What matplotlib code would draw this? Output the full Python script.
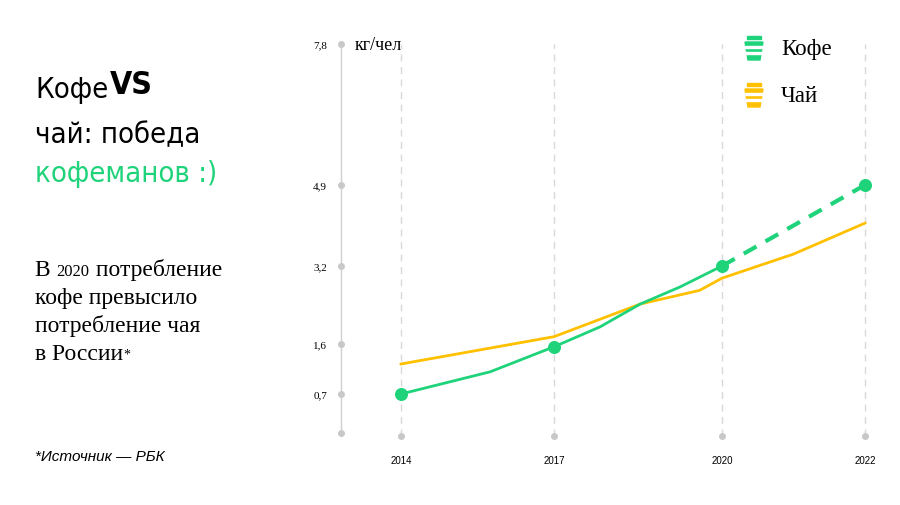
import numpy as np
import matplotlib
matplotlib.use("Agg")
import matplotlib.pyplot as plt
from matplotlib.patches import Polygon, Rectangle

years = [2014, 2017, 2020, 2022]
coffee_x = [2014, 2015.75, 2017, 2017.82, 2018.54, 2019.25, 2020]
coffee_y = [0.7, 1.1, 1.55, 1.95, 2.42, 2.77, 3.2]
coffee_fc_x = [2020, 2022]
coffee_fc_y = [3.2, 4.9]
coffee_pts_x = [2014, 2017, 2020, 2022]
coffee_pts_y = [0.7, 1.55, 3.2, 4.9]
tea_x = [2014, 2017, 2018.54, 2019.6, 2020, 2021, 2022]
tea_y = [1.24, 1.75, 2.42, 2.7, 2.95, 3.45, 4.1]
ytick_vals = [0, 0.7, 1.6, 3.2, 4.9, 7.8]
ytick_labels = ["", "0,7", "1,6", "3,2", "4,9", "7,8"]

GREEN = "#1fd37a"
YELLOW = "#ffc000"

xv = np.array([2000, 2014, 2017, 2020, 2022, 2040.0])
xp = np.array([401 - 14*51, 401, 554, 722, 865, 865 + 18*50.0])
yv = np.array([-10, 0, 0.7, 1.6, 3.2, 4.9, 7.8, 20.0])
yp = np.array([-560, 0, 39, 89, 167, 248, 389, 389 + 12.2*48.6])
fx = lambda v: np.interp(v, xv, xp)
ix = lambda p: np.interp(p, xp, xv)
fy = lambda v: np.interp(v, yv, yp)
iy = lambda p: np.interp(p, yp, yv)

fig = plt.figure(figsize=(9, 5.06), dpi=100)
ax = fig.add_axes([341/900, (506-437)/506, (880-341)/900, (437-45)/506])
ax.set_xscale("function", functions=(fx, ix))
ax.set_yscale("function", functions=(fy, iy))
ax.set_xlim(ix(341), ix(880))
ax.set_ylim(iy(-3), 7.8)

for s in ["top", "right", "bottom"]:
    ax.spines[s].set_visible(False)
ax.spines["left"].set_color("#d0d0d0")
ax.spines["left"].set_linewidth(1.0)

for yr in years:
    ax.axvline(yr, color="#d9d9d9", lw=1, ls=(0, (5, 4)), zorder=0)

ax.plot(tea_x, tea_y, color=YELLOW, lw=2, zorder=2)
ax.plot(coffee_x, coffee_y, color=GREEN, lw=2, zorder=3)
ax.plot(coffee_fc_x, coffee_fc_y, color=GREEN, lw=3, ls=(0, (3.5, 2.5)), zorder=3)
ax.scatter(coffee_pts_x, coffee_pts_y, s=70, color=GREEN, zorder=4)

ax.scatter([ix(341)]*len(ytick_vals), ytick_vals, s=16, color="#c8c8c8", clip_on=False, zorder=5)
ax.scatter(years, [iy(-3)]*len(years), s=16, color="#c8c8c8", clip_on=False, zorder=5)

ax.set_yticks(ytick_vals)
ax.set_yticklabels(ytick_labels, fontsize=8, family="Liberation Serif")
ax.set_xticks(years)
ax.set_xticklabels([str(y) for y in years], fontsize=7, family="Liberation Sans")
ax.tick_params(axis="y", length=0, pad=10)
ax.tick_params(axis="x", length=0, pad=14)
ax.minorticks_off()

fig.text(355/900, 1-46/506, "кг/чел", fontsize=13, family="Liberation Serif", va="center")

def cup(cx, cy, color):
    W, H = 900, 506
    top, bot = cy - 11, cy + 11
    poly = [(cx-9, top+4), (cx+9, top+4), (cx+6, bot), (cx-6, bot)]
    fig.patches.append(Polygon([(x/W, 1-y/H) for x, y in poly], closed=True,
                               transform=fig.transFigure, color=color))
    fig.patches.append(Rectangle(((cx-7)/W, 1-(top+1)/H), 14/W, 3/H,
                                 transform=fig.transFigure, color=color))
    for yy in (top+8, top+14):
        fig.patches.append(Rectangle(((cx-9)/W, 1-(yy+1.5)/H), 18/W, 1.8/H,
                                     transform=fig.transFigure, color="white"))

cup(754, 50, GREEN)
cup(754, 97, YELLOW)
fig.text(781/900, 1-50/506, "Кофе", fontsize=16.5, family="Liberation Serif", va="center")
fig.text(781/900, 1-97/506, "Чай", fontsize=16.5, family="Liberation Serif", va="center")

tf = dict(family="DejaVu Sans", stretch="condensed", fontsize=21, va="center")
fig.text(35/900, 1-90/506, "Кофе", **tf)
fig.text(110/900, 1-86/506, "VS", family="DejaVu Sans", stretch="condensed",
         fontweight="bold", fontsize=23, va="center")
fig.text(35/900, 1-135/506, "чай: победа", **tf)
fig.text(35/900, 1-174/506, "кофеманов :)", color=GREEN, **tf)

sf = dict(family="Liberation Serif", fontsize=17, va="baseline")
r = fig.canvas.get_renderer()
def run(parts, x, ybase):
    for txt, size, dy in parts:
        t = fig.text(x/900, 1-(ybase+dy)/506, txt, family="Liberation Serif",
                     fontsize=size, va="baseline")
        x = t.get_window_extent(r).x1
base = [276, 304, 332, 360]
run([("В ", 17, 0), ("2020", 12, 0), (" потребление", 17, 0)], 35, base[0])
run([("кофе превысило", 17, 0)], 35, base[1])
run([("потребление чая", 17, 0)], 35, base[2])
run([("в России", 17, 0), ("*", 10, -1)], 35, base[3])

fig.text(35/900, 1-457/506, "*Источник — РБК", family="Liberation Sans",
         style="italic", fontsize=11, va="center")

fig.savefig("out.png", dpi=100)
